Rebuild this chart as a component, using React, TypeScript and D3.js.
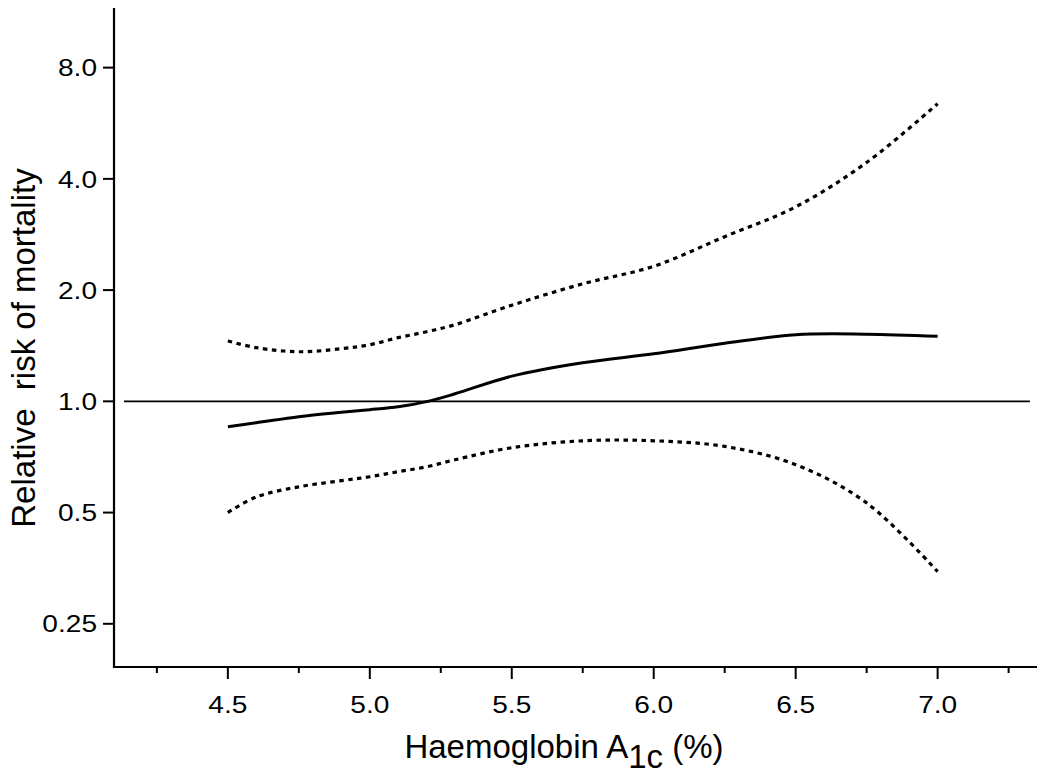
import React from "react";
import * as d3 from "d3";

const hba1c = [4.5, 4.6, 4.75, 4.9, 5.0, 5.1, 5.2, 5.3, 5.5, 5.75, 6.0, 6.25, 6.5, 6.75, 7.0];
const rrEstimate = [0.854, 0.875, 0.909, 0.934, 0.949, 0.967, 0.998, 1.048, 1.17, 1.272, 1.345, 1.436, 1.515, 1.52, 1.5];
const rrUpper = [1.457, 1.397, 1.362, 1.388, 1.423, 1.487, 1.543, 1.612, 1.82, 2.08, 2.32, 2.79, 3.36, 4.43, 6.39];
const rrLower = [0.5, 0.551, 0.587, 0.61, 0.625, 0.645, 0.665, 0.695, 0.749, 0.782, 0.782, 0.755, 0.674, 0.531, 0.346];

const yTicks = [0.25, 0.5, 1.0, 2.0, 4.0, 8.0];
const yTickLabels = ["0.25", "0.5", "1.0", "2.0", "4.0", "8.0"];
const xMajorTicks = [4.5, 5.0, 5.5, 6.0, 6.5, 7.0];
const xMinorTicks = [4.25, 4.75, 5.25, 5.75, 6.25, 6.75, 7.25];
const xDomain = [4.099, 7.35];
const yDomain = [0.191, 11.6];
const refLineRange = [4.134, 7.325];

const W = 1050;
const H = 780;
const plot = { left: 114, right: 1037, top: 8, bottom: 667 };
const FONT = "'Liberation Sans', Arial, Helvetica, sans-serif";
const SX = 1.17;

export default function App() {
  const x = d3.scaleLinear().domain(xDomain).range([plot.left, plot.right]);
  const y = d3.scaleLog().base(2).domain(yDomain).range([plot.bottom, plot.top]);

  const line = (vals: number[]) =>
    d3
      .line<number>()
      .x((_, i) => x(hba1c[i]))
      .y((d) => y(d))
      .curve(d3.curveCatmullRom.alpha(0.5))(vals) || "";

  return (
    <svg
      width={W}
      height={H}
      style={{ position: "absolute", left: 0, top: 0, background: "#fff" }}
      fontFamily={FONT}
    >
      <rect x={0} y={0} width={W} height={H} fill="#fff" />
      {/* reference line at RR = 1 */}
      <line
        x1={x(refLineRange[0])}
        x2={x(refLineRange[1])}
        y1={y(1)}
        y2={y(1)}
        stroke="#000"
        strokeWidth={1.8}
      />
      {/* confidence bounds */}
      <path d={line(rrUpper)} fill="none" stroke="#000" strokeWidth={3.2} strokeDasharray="4.5,4.5" />
      <path d={line(rrLower)} fill="none" stroke="#000" strokeWidth={3.2} strokeDasharray="4.5,4.5" />
      {/* estimate */}
      <path d={line(rrEstimate)} fill="none" stroke="#000" strokeWidth={3} />

      {/* axes */}
      <line x1={plot.left} x2={plot.left} y1={plot.top} y2={plot.bottom + 1} stroke="#000" strokeWidth={2.2} />
      <line x1={plot.left - 1} x2={plot.right} y1={plot.bottom} y2={plot.bottom} stroke="#000" strokeWidth={2.2} />

      {yTicks.map((t, i) => (
        <g key={"y" + t}>
          <line x1={plot.left - 11} x2={plot.left} y1={y(t)} y2={y(t)} stroke="#000" strokeWidth={2} />
          <text
            transform={`translate(${plot.left - 17}, ${y(t)}) scale(${SX}, 1)`}
            dy="0.36em"
            textAnchor="end"
            fontSize={24}
            fill="#000"
          >
            {yTickLabels[i]}
          </text>
        </g>
      ))}

      {xMajorTicks.map((t) => (
        <g key={"x" + t}>
          <line x1={x(t)} x2={x(t)} y1={plot.bottom} y2={plot.bottom + 12} stroke="#000" strokeWidth={2} />
          <text
            transform={`translate(${x(t)}, 713) scale(${SX}, 1)`}
            textAnchor="middle"
            fontSize={24}
            fill="#000"
          >
            {t.toFixed(1)}
          </text>
        </g>
      ))}
      {xMinorTicks.map((t) => (
        <line key={"m" + t} x1={x(t)} x2={x(t)} y1={plot.bottom} y2={plot.bottom + 6} stroke="#000" strokeWidth={2} />
      ))}

      {/* axis titles */}
      <text x={564} y={758} textAnchor="middle" fontSize={33} fill="#000">
        Haemoglobin A<tspan dy={10}>1c</tspan>
        <tspan dy={-10}> (%)</tspan>
      </text>
      <text
        transform={`translate(35, 348) rotate(-90)`}
        textAnchor="middle"
        fontSize={33}
        fill="#000"
        style={{ whiteSpace: "pre" }}
      >
        {"Relative  risk of mortality"}
      </text>
    </svg>
  );
}
